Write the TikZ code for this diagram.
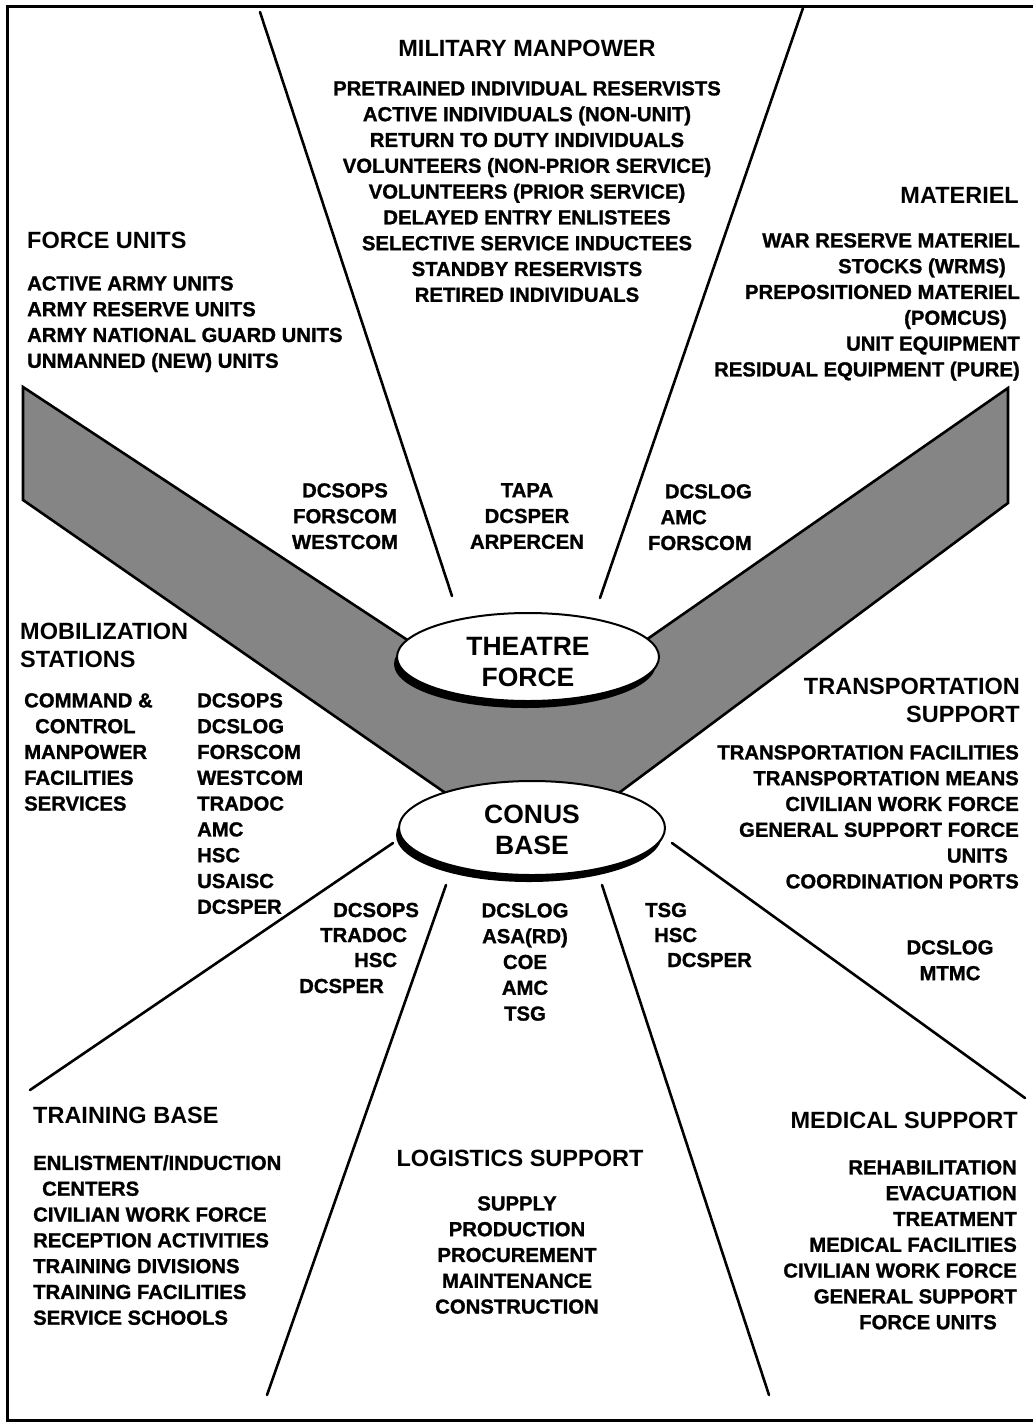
\documentclass[tikz,border=0pt]{standalone}
\usepackage{fontspec}
\setmainfont{Liberation Sans}
\newfontfamily\heavyfont{Liberation Sans Bold}[FakeBold=1.2]
\usetikzlibrary{shapes.geometric,shadows}
\begin{document}
\begin{tikzpicture}[x=1pt,y=-1pt,
  hdr/.style={font=\fontsize{23.5}{28}\selectfont\bfseries, inner sep=0pt},
  itm/.style={font=\fontsize{20.3}{25.8}\selectfont\heavyfont, inner sep=0pt},
  big/.style={font=\fontsize{26.5}{31}\selectfont\bfseries, align=center, inner sep=0pt},
  ray/.style={line width=2.6pt, line cap=round},
  disk/.style={ellipse, draw, line width=2pt, fill=white, inner sep=0pt,
    drop shadow={shadow xshift=-3pt, shadow yshift=-7pt, fill=black, opacity=1}},
  band/.style={fill=black!48, draw=black, line width=2.6pt, line join=miter}
]
\useasboundingbox (0,0) rectangle (1033,1428);
\fill[white] (0,0) rectangle (1033,1428);
% frame
\coordinate (f1) at (1033,6);
\coordinate (f2) at (7,6);
\coordinate (f3) at (7,1420);
\coordinate (f4) at (1033,1420);
\draw[line width=3pt] (f1) -- (f2) -- (f3) -- (f4);

% band
\coordinate (bL1) at (23,387);
\coordinate (bLi) at (450,668);
\coordinate (bRi) at (600,672);
\coordinate (bR1) at (1008,388);
\coordinate (bR2) at (1008,503);
\coordinate (bRo) at (600,807);
\coordinate (bLo) at (470,810);
\coordinate (bL2) at (23,500);
\draw[band] (bL1) -- (bLi) -- (bRi) -- (bR1) -- (bR2) -- (bRo) -- (bLo) -- (bL2) -- cycle;

% disks
\node[disk, minimum width=262, minimum height=88] (theatre) at (528,657) {};
\node[big, yshift=-5pt] (theatreT) at (theatre.center) {THEATRE\\FORCE};
\node[disk, minimum width=266, minimum height=94] (conus) at (532,828) {};
\node[big, yshift=-2pt] (conusT) at (conus.center) {CONUS\\BASE};

% rays
\coordinate (r1a) at (260,12);  \coordinate (r1b) at (452,596);
\coordinate (r2a) at (803,8);   \coordinate (r2b) at (600,598);
\coordinate (r3a) at (393,843); \coordinate (r3b) at (30,1090);
\coordinate (r4a) at (446,885); \coordinate (r4b) at (267,1395);
\coordinate (r5a) at (602,885); \coordinate (r5b) at (769,1395);
\coordinate (r6a) at (672,843); \coordinate (r6b) at (1025,1098);
\draw[ray] (r1a) -- (r1b);
\draw[ray] (r2a) -- (r2b);
\draw[ray] (r3a) -- (r3b);
\draw[ray] (r4a) -- (r4b);
\draw[ray] (r5a) -- (r5b);
\draw[ray] (r6a) -- (r6b);

% military manpower
\node[hdr] (mmH) at (527,48) {MILITARY MANPOWER};
\node[itm, align=center, anchor=north] (mmL) at (527,81) {PRETRAINED INDIVIDUAL RESERVISTS\\ACTIVE INDIVIDUALS (NON-UNIT)\\RETURN TO DUTY INDIVIDUALS\\VOLUNTEERS (NON-PRIOR SERVICE)\\VOLUNTEERS (PRIOR SERVICE)\\DELAYED ENTRY ENLISTEES\\SELECTIVE SERVICE INDUCTEES\\STANDBY RESERVISTS\\RETIRED INDIVIDUALS};

% force units
\node[hdr, anchor=west] (fuH) at (27,240) {FORCE UNITS};
\node[itm, align=left, anchor=north west] (fuL) at (27,276) {ACTIVE ARMY UNITS\\ARMY RESERVE UNITS\\ARMY NATIONAL GUARD UNITS\\UNMANNED (NEW) UNITS};

% materiel
\node[hdr, anchor=east] (maH) at (1019,195) {MATERIEL};
\node[itm, align=right, anchor=north east] (maL) at (1020,233) {WAR RESERVE MATERIEL\\STOCKS (WRMS)\rule{14pt}{0pt}\\PREPOSITIONED MATERIEL\\(POMCUS)\rule{13pt}{0pt}\\UNIT EQUIPMENT\\RESIDUAL EQUIPMENT (PURE)};

% theatre band labels
\node[itm, align=center, anchor=north] (tl) at (345,483) {DCSOPS\\FORSCOM\\WESTCOM};
\node[itm, align=center, anchor=north] (tm) at (527,483) {TAPA\\DCSPER\\ARPERCEN};
\node[itm, align=right, anchor=north east] (tr) at (752,484) {DCSLOG\\AMC\rule{45pt}{0pt}\\FORSCOM};

% mobilization stations
\node[hdr, align=left, anchor=north west] (moH) at (20,623) {MOBILIZATION\\STATIONS};
\node[itm, align=left, anchor=north west] (moL) at (24,693) {COMMAND \&\\\rule{11pt}{0pt}CONTROL\\MANPOWER\\FACILITIES\\SERVICES};
\node[itm, align=left, anchor=north west] (moR) at (197,693) {DCSOPS\\DCSLOG\\FORSCOM\\WESTCOM\\TRADOC\\AMC\\HSC\\USAISC\\DCSPER};

% transportation support
\node[hdr, align=right, anchor=north east] (trH) at (1020,678) {TRANSPORTATION\\SUPPORT};
\node[itm, align=right, anchor=north east] (trL) at (1019,745) {TRANSPORTATION FACILITIES\\TRANSPORTATION MEANS\\CIVILIAN WORK FORCE\\GENERAL SUPPORT FORCE\\UNITS\rule{11pt}{0pt}\\COORDINATION PORTS};

% lower labels
\node[itm, anchor=west] (ll1) at (333,910) {DCSOPS};
\node[itm, anchor=west] (ll2) at (320,935) {TRADOC};
\node[itm, anchor=west] (ll3) at (354,960) {HSC};
\node[itm, anchor=west] (ll4) at (299,986) {DCSPER};
\node[itm, align=center, anchor=north] (lc) at (525,903) {DCSLOG\\ASA(RD)\\COE\\AMC\\TSG};
\node[itm, anchor=west] (lr1) at (645,910) {TSG};
\node[itm, anchor=west] (lr2) at (654,935) {HSC};
\node[itm, anchor=west] (lr3) at (667,960) {DCSPER};
\node[itm, align=center, anchor=north] (mt) at (950,940) {DCSLOG\\MTMC};

% training base
\node[hdr, anchor=west] (tbH) at (33,1115) {TRAINING BASE};
\node[itm, align=left, anchor=north west] (tbL) at (33,1155) {ENLISTMENT/INDUCTION\\\rule{9pt}{0pt}CENTERS\\CIVILIAN WORK FORCE\\RECEPTION ACTIVITIES\\TRAINING DIVISIONS\\TRAINING FACILITIES\\SERVICE SCHOOLS};

% logistics support
\node[hdr] (lsH) at (520,1158) {LOGISTICS SUPPORT};
\node[itm, align=center, anchor=north] (lsL) at (517,1196) {SUPPLY\\PRODUCTION\\PROCUREMENT\\MAINTENANCE\\CONSTRUCTION};

% medical support
\node[hdr, anchor=east] (msH) at (1018,1120) {MEDICAL SUPPORT};
\node[itm, align=right, anchor=north east] (msL) at (1017,1160) {REHABILITATION\\EVACUATION\\TREATMENT\\MEDICAL FACILITIES\\CIVILIAN WORK FORCE\\GENERAL SUPPORT\\FORCE UNITS\rule{20pt}{0pt}};
\end{tikzpicture}
\end{document}
